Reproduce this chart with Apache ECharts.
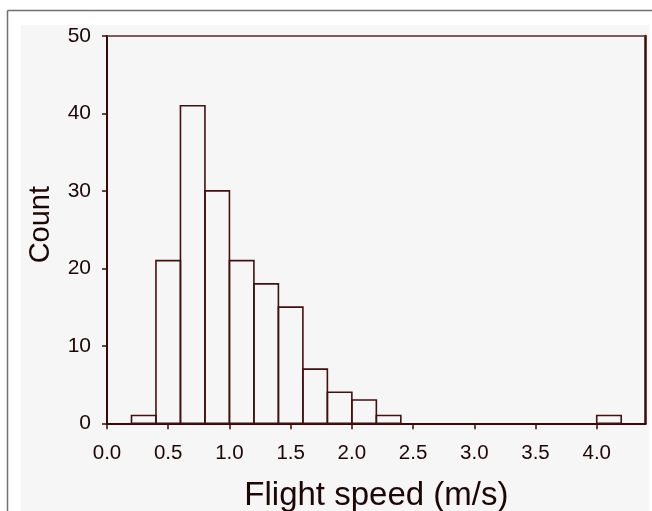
<!DOCTYPE html>
<html>
<head>
<meta charset="utf-8">
<script src="https://cdn.jsdelivr.net/npm/echarts@6/dist/echarts.min.js"></script>
<style>html,body{margin:0;padding:0;background:#fff;}#c{width:652px;height:511px;}</style>
</head>
<body>
<div id="c"></div>
<script>
// Histogram bins (m/s) and counts
const binStart = [0.2, 0.4, 0.6, 0.8, 1.0, 1.2, 1.4, 1.6, 1.8, 2.0, 2.2, 4.0];
const binEnd   = [0.4, 0.6, 0.8, 1.0, 1.2, 1.4, 1.6, 1.8, 2.0, 2.2, 2.4, 4.2];
const counts   = [1, 21, 41, 30, 21, 18, 15, 7, 4, 3, 1, 1];
const xTicks   = [0.0, 0.5, 1.0, 1.5, 2.0, 2.5, 3.0, 3.5, 4.0];
const xTitle = 'Flight speed (m/s)';
const yTitle = 'Count';

const font = '"Liberation Sans", Arial, sans-serif';
const textColor = '#1f0606';
const axisColor = '#3a0808';

const data = binStart.map((s, i) => [s, binEnd[i], counts[i]]);

const chart = echarts.init(document.getElementById('c'), null, {renderer: 'canvas'});
chart.setOption({
  backgroundColor: '#ffffff',
  animation: false,
  graphic: [
    {type: 'rect', shape: {x: 21, y: 25, width: 628, height: 500}, style: {fill: '#f6f6f6'}, z: -10},
    {type: 'line', shape: {x1: 7.5, y1: 10.5, x2: 652, y2: 10.5}, style: {stroke: '#707070', lineWidth: 1.5}, z: -10},
    {type: 'line', shape: {x1: 7.5, y1: 10.5, x2: 7.5, y2: 511}, style: {stroke: '#707070', lineWidth: 1.5}, z: -10}
  ],
  grid: {left: 107, top: 36, right: 6.3, bottom: 87.7, containLabel: false, outerBoundsMode: 'none'},
  xAxis: [{
    type: 'value', min: 0, max: 4.4, position: 'bottom',
    splitLine: {show: false},
    axisLine: {show: true, onZero: false, lineStyle: {color: axisColor, width: 2}},
    axisTick: {show: true, length: 6, customValues: xTicks, lineStyle: {color: axisColor, width: 1.5}},
    axisLabel: {customValues: xTicks, margin: 20, fontSize: 20.5, fontFamily: font, color: textColor,
      formatter: v => Number(v).toFixed(1)},
    name: xTitle, nameLocation: 'middle', nameGap: 56,
    nameTextStyle: {fontSize: 33, fontFamily: font, color: textColor}
  }, {
    type: 'value', min: 0, max: 4.4, position: 'top',
    splitLine: {show: false},
    axisLine: {show: true, onZero: false, lineStyle: {color: '#5a2a2a', width: 1.5}},
    axisTick: {show: false}, axisLabel: {show: false}
  }],
  yAxis: [{
    type: 'value', min: 0, max: 50, interval: 10, position: 'left',
    splitLine: {show: false},
    axisLine: {show: true, onZero: false, lineStyle: {color: axisColor, width: 2}},
    axisTick: {show: true, length: 5, lineStyle: {color: axisColor, width: 1.5}},
    axisLabel: {margin: 16, fontSize: 21, fontFamily: font, color: textColor},
    name: yTitle, nameLocation: 'middle', nameGap: 52,
    nameTextStyle: {fontSize: 29, fontFamily: font, color: textColor, padding: [0, 0, 0, 10]}
  }, {
    type: 'value', min: 0, max: 50, position: 'right',
    splitLine: {show: false},
    axisLine: {show: true, onZero: false, lineStyle: {color: axisColor, width: 2.5}},
    axisTick: {show: false}, axisLabel: {show: false}
  }],
  series: [{
    type: 'custom',
    xAxisIndex: 0, yAxisIndex: 0,
    data: data,
    encode: {x: [0, 1], y: 2},
    renderItem: function (params, api) {
      const p0 = api.coord([api.value(0), api.value(2)]);
      const p1 = api.coord([api.value(1), 0]);
      return {
        type: 'rect',
        shape: {x: p0[0], y: p0[1], width: p1[0] - p0[0], height: p1[1] - p0[1]},
        style: {fill: 'rgba(0,0,0,0)', stroke: '#431010', lineWidth: 1.6}
      };
    }
  }]
});
</script>
</body>
</html>
